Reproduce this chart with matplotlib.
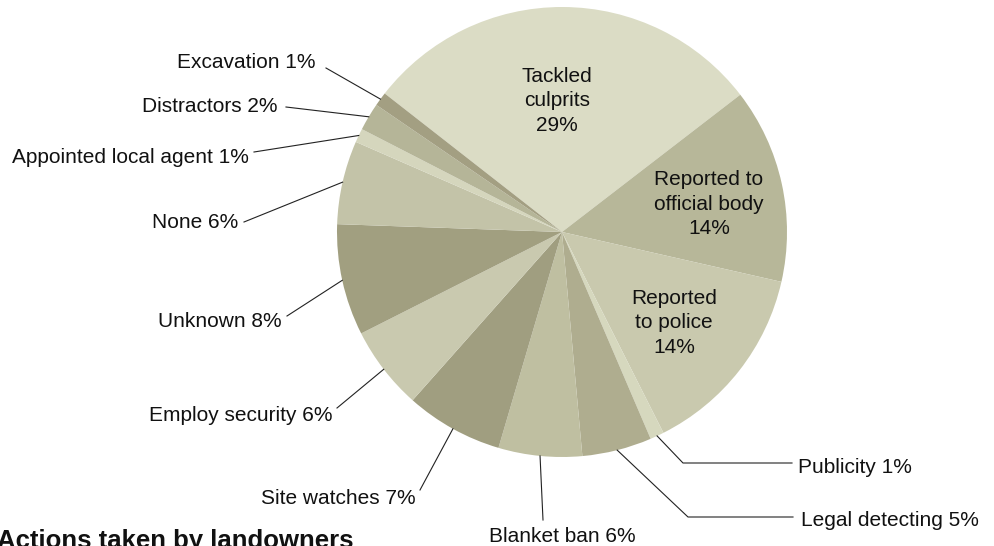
import numpy as np
import matplotlib.pyplot as plt

plt.rcParams['font.family'] = ['Liberation Sans', 'DejaVu Sans']

labels = ['Tackled culprits', 'Reported to official body', 'Reported to police', 'Publicity',
          'Legal detecting', 'Blanket ban', 'Site watches', 'Employ security', 'Unknown', 'None',
          'Appointed local agent', 'Distractors', 'Excavation']
values = [29, 14, 14, 1, 5, 6, 7, 6, 8, 6, 1, 2, 1]
colors = ['#dbdcc5', '#b7b799', '#c9c9ae', '#d6d8be', '#afad8f', '#bfbfa1', '#a09e80',
          '#c9c9af', '#a19f80', '#c3c3a8', '#d5d6bd', '#b5b598', '#a39f82']

W, H = 995, 546
cx, cy, r = 562, 232, 225


def px(x, y):
    # pixel position in the picture -> data coords of the pie axes
    return (x - cx) / r, (cy - y) / r


fig = plt.figure(figsize=(W / 100, H / 100), dpi=100)
ax = fig.add_axes([(cx - r) / W, (H - cy - r) / H, 2 * r / W, 2 * r / H])
wedges, _ = ax.pie(values, colors=colors, startangle=142, counterclock=False, radius=1,
                   wedgeprops=dict(linewidth=0))
ax.set_xlim(-1, 1)
ax.set_ylim(-1, 1)
ax.axis('off')

txt = dict(fontsize=15, color='#111111', clip_on=False)

# labels inside the three big slices
inside = {0: ('Tackled\nculprits\n%d%%', (557, 101)),
          1: ('Reported to\nofficial body\n%d%%', (709, 204)),
          2: ('Reported\nto police\n%d%%', (674, 323))}
for i, (s, pos) in inside.items():
    ax.text(*px(*pos), s % values[i], ha='center', va='center', multialignment='center',
            linespacing=1.34, **txt)

# outside labels: (text anchor, alignment, leader path end points)
outside = {
    12: ((315, 68), 'right', [(326, 68)]),
    11: ((277, 112), 'right', [(286, 107)]),
    10: ((249, 163), 'right', [(254, 152)]),
    9: ((238, 228), 'right', [(244, 222)]),
    8: ((282, 327), 'right', [(287, 316)]),
    7: ((332, 421), 'right', [(337, 408)]),
    6: ((416, 504), 'right', [(420, 490)]),
    5: ((562, 542), 'center', [(543, 520)]),
    3: ((798, 473), 'left', [(683, 463), (792, 463)]),
    4: ((801, 526), 'left', [(688, 517), (793, 517)]),
}
for i, (pos, ha, path) in outside.items():
    w = wedges[i]
    th = np.deg2rad((w.theta1 + w.theta2) / 2)
    xs = [np.cos(th)] + [px(*p)[0] for p in path]
    ys = [np.sin(th)] + [px(*p)[1] for p in path]
    ax.plot(xs, ys, color='#222222', lw=0.8, clip_on=False)
    ax.text(*px(*pos), '%s %d%%' % (labels[i], values[i]), ha=ha, va='baseline', **txt)

fig.text(-3 / W, (H - 548) / H, 'Actions taken by landowners', fontsize=18.5, fontweight='bold',
         color='#111111', ha='left', va='baseline')

fig.savefig('out.png', dpi=100)
